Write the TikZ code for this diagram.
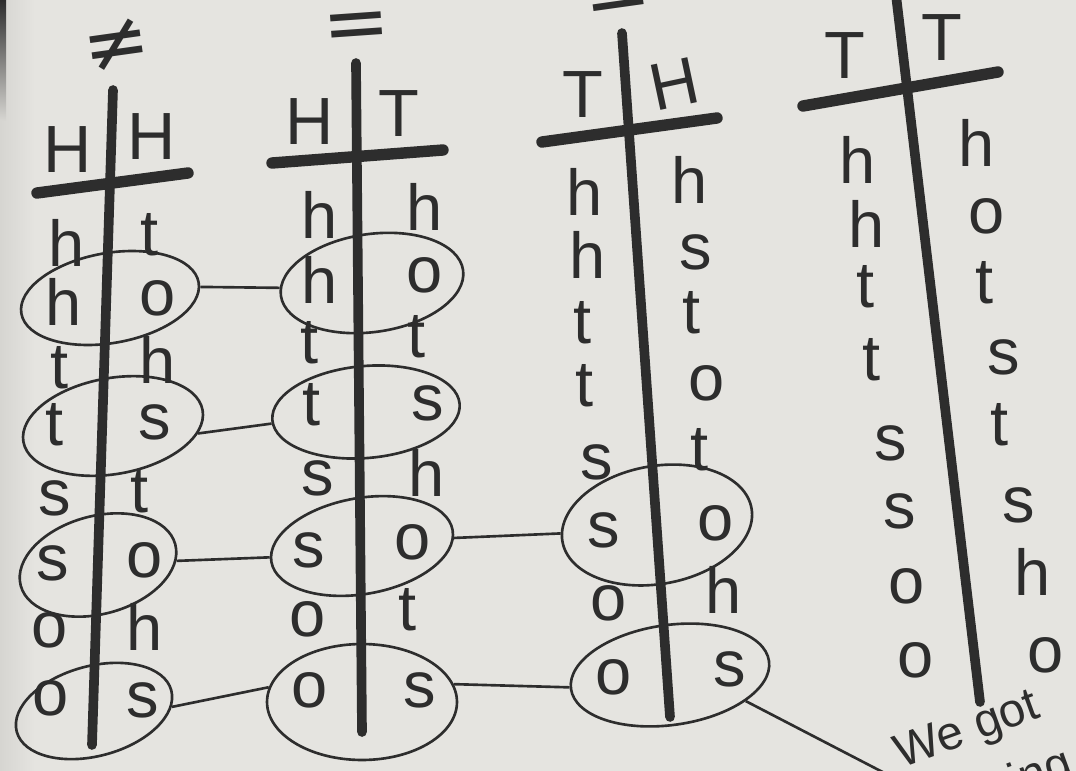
\documentclass[tikz,border=0pt]{standalone}
\usepackage{fontspec}
\setmainfont{Liberation Sans}
\newfontfamily\symfont{DejaVu Sans}
\usetikzlibrary{shapes.geometric}
\definecolor{paper}{RGB}{229,228,224}
\definecolor{paperdark}{RGB}{214,213,209}
\definecolor{ink}{RGB}{45,45,45}

\begin{document}
\begin{tikzpicture}[x=0.02cm,y=-0.02cm,
  letter/.style={text=ink, font=\fontsize{37}{44}\selectfont, inner sep=0pt},
  capital/.style={text=ink, font=\fontsize{38}{44}\selectfont, inner sep=0pt},
  sym/.style={text=ink, font=\symfont\fontsize{46}{54}\selectfont, inner sep=0pt},
  note/.style={text=ink, font=\fontsize{27}{32}\selectfont, inner sep=2pt},
  ring/.style={draw=ink, line width=1.5pt, ellipse, inner sep=0pt},
  link/.style={draw=ink, line width=1.5pt},
  stem/.style={draw=ink, line width=5.5pt, line cap=round},
  rule/.style={draw=ink, line width=6.5pt, line cap=round},
]
\useasboundingbox (0,0) rectangle (1076,771);
\clip (0,0) rectangle (1076,771);
% paper
\fill[paper] (0,0) rectangle (1076,771);
\shade[left color=paperdark, right color=paper] (0,0) rectangle (35,771);
\shade[top color=ink, bottom color=paperdark] (0,0) rectangle (6,120);

% ---- T-chart 1 : H | H ----
\node[sym, rotate=8] (ne) at (117,45) {≠};
\coordinate (v1a) at (113,90);  \coordinate (v1b) at (92,745);
\coordinate (r1a) at (37,193);  \coordinate (r1b) at (188,173);
\draw[stem] (v1a) -- (v1b);
\draw[rule] (r1a) -- (r1b);
\node[capital] (c1l) at (68,150) {H};
\node[capital] (c1r) at (152,137) {H};
\foreach \ch/\x/\y [count=\i] in {h/67/243, h/64/302, t/60/368, t/55/425,
    s/55/498, s/53/563, o/50/630, o/51/698}
  \node[letter] (p1l\i) at (\x,\y) {\ch};
\foreach \ch/\x/\y [count=\i] in {t/150/235, o/158/298, h/158/360, s/155/422,
    t/140/492, o/145/560, h/145/627, s/143/700}
  \node[letter] (p1r\i) at (\x,\y) {\ch};

% ---- T-chart 2 : H | T ----
\node[sym, rotate=4] (eqa) at (357,32) {=};
\coordinate (v2a) at (356,63);  \coordinate (v2b) at (362,732);
\coordinate (r2a) at (272,163); \coordinate (r2b) at (443,150);
\draw[stem] (v2a) -- (v2b);
\draw[rule] (r2a) -- (r2b);
\node[capital] (c2l) at (310,122) {H};
\node[capital] (c2r) at (399,114) {T};
\foreach \ch/\x/\y [count=\i] in {h/320/215, h/320/280, t/310/343, t/312/405,
    s/318/478, s/309/550, o/308/619, o/310/690}
  \node[letter] (p2l\i) at (\x,\y) {\ch};
\foreach \ch/\x/\y [count=\i] in {h/425/207, o/425/275, t/417/337, s/428/403,
    h/427/473, o/413/542, t/408/610, s/420/690}
  \node[letter] (p2r\i) at (\x,\y) {\ch};

% ---- T-chart 3 : T | H ----
\node[sym, rotate=8] (eqb) at (618,4) {=};
\coordinate (v3a) at (622,33);  \coordinate (v3b) at (670,717);
\coordinate (r3a) at (542,142); \coordinate (r3b) at (717,118);
\draw[stem] (v3a) -- (v3b);
\draw[rule] (r3a) -- (r3b);
\node[capital] (c3l) at (583,95) {T};
\node[capital, rotate=12] (c3r) at (674,84) {H};
\foreach \ch/\x/\y [count=\i] in {h/585/192, h/588/255, t/583/323, t/585/386,
    s/597/462, s/604/530, o/609/603, o/614/677}
  \node[letter] (p3l\i) at (\x,\y) {\ch};
\foreach \ch/\x/\y [count=\i] in {h/690/180, s/696/252, t/692/313, o/707/383,
    t/700/450, o/716/523, h/724/590, s/730/669}
  \node[letter] (p3r\i) at (\x,\y) {\ch};

% ---- T-chart 4 : T | T ----
\coordinate (v4a) at (896,-5);  \coordinate (v4b) at (980,702);
\coordinate (r4a) at (803,106); \coordinate (r4b) at (998,72);
\draw[stem] (v4a) -- (v4b);
\draw[rule] (r4a) -- (r4b);
\node[capital] (c4l) at (845,56) {T};
\node[capital] (c4r) at (942,38) {T};
\foreach \ch/\x/\y [count=\i] in {h/858/160, h/867/224, t/866/287, t/872/360,
    s/891/443, s/900/511, o/907/586, o/916/660}
  \node[letter] (p4l\i) at (\x,\y) {\ch};
\foreach \ch/\x/\y [count=\i] in {h/977/143, o/987/216, t/985/283, s/1004/357,
    t/1000/425, s/1019/505, h/1033/572, o/1046/655}
  \node[letter] (p4r\i) at (\x,\y) {\ch};

% ---- circled pairs ----
\node[ring, minimum width=3.6cm,  minimum height=1.8cm,  rotate=10] (a2) at (110,298) {};
\node[ring, minimum width=3.64cm, minimum height=1.92cm, rotate=10] (a4) at (113,426) {};
\node[ring, minimum width=3.2cm,  minimum height=1.96cm, rotate=15] (a6) at (98,565) {};
\node[ring, minimum width=3.2cm,  minimum height=1.8cm,  rotate=15] (a8) at (94,711) {};
\node[ring, minimum width=3.68cm, minimum height=1.96cm, rotate=8]  (b2) at (372,283) {};
\node[ring, minimum width=3.76cm, minimum height=1.84cm, rotate=5]  (b4) at (366,412) {};
\node[ring, minimum width=3.68cm, minimum height=1.92cm, rotate=10] (b6) at (362,546) {};
\node[ring, minimum width=3.8cm,  minimum height=2.32cm]            (b8) at (362,702) {};
\node[ring, minimum width=3.84cm, minimum height=2.36cm, rotate=10] (c6) at (657,525) {};
\node[ring, minimum width=4.0cm,  minimum height=2.0cm,  rotate=8]  (c8) at (670,675) {};

% ---- note ----
\node[note, rotate=20] (we) at (968,732) {We got};
\node[note, rotate=20] (nothing) at (998,791) {nothing};

% ---- connectors ----
\draw[link] (a2.-3)  -- (b2.175);
\draw[link] (a4.-15) -- (b4.182);
\draw[link] (a6.-12) -- (b6.177);
\draw[link] (a8.-12) -- (b8.171);
\draw[link] (b6.-5)  -- (c6.175);
\draw[link] (b8.11)  -- (c8.179);
\draw[link] (c8.-27) -- (we.south west);
\end{tikzpicture}
\end{document}
